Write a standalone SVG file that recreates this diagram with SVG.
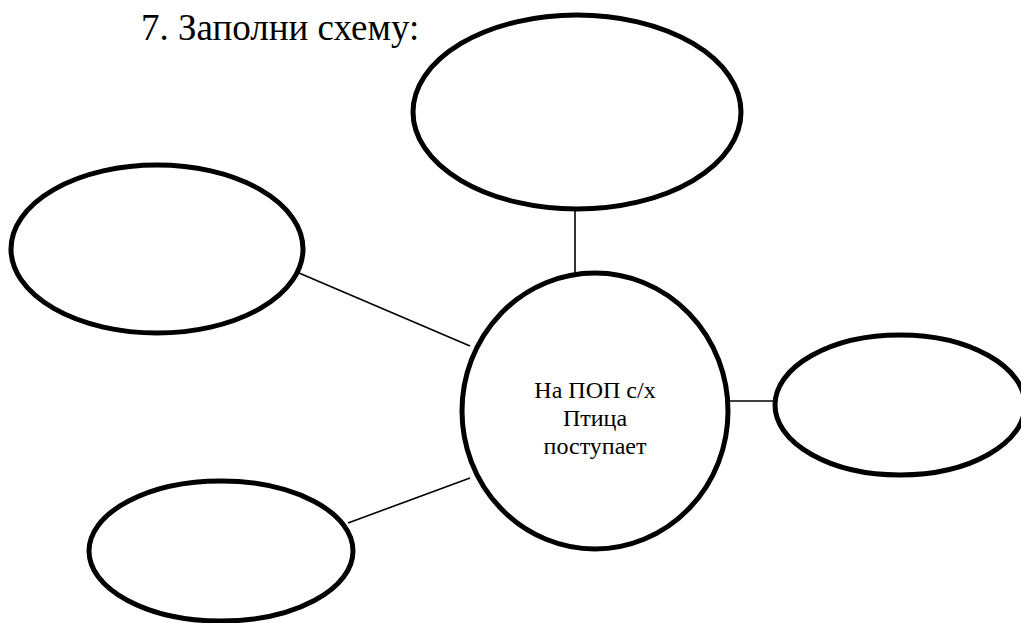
<svg xmlns="http://www.w3.org/2000/svg" width="1021" height="623" viewBox="0 0 1021 623">
<style>
.node{fill:#fff;stroke:#000;stroke-width:5}
.conn line{stroke:#000;stroke-width:1.6}
.t{fill:#000;font-family:"Liberation Serif","Times New Roman",serif}
</style>
<rect width="1021" height="623" fill="#fff"/>
<text class="t" x="141" y="40" font-size="37">7. Заполни схему:</text>
<g id="connectors" class="conn">
<line x1="575" y1="209" x2="575" y2="273"/>
<line x1="299" y1="273" x2="470" y2="346"/>
<line x1="728" y1="401" x2="776" y2="401"/>
<line x1="348" y1="523" x2="470" y2="478"/>
</g>
<g id="top"><ellipse class="node" cx="577" cy="112" rx="164" ry="97"/></g>
<g id="left"><ellipse class="node" cx="157" cy="249" rx="146" ry="84"/></g>
<g id="right"><ellipse class="node" cx="900" cy="405" rx="125" ry="70"/></g>
<g id="bottom"><ellipse class="node" cx="221" cy="551" rx="132" ry="70"/></g>
<g id="center">
<ellipse class="node" cx="595" cy="411" rx="133" ry="138"/>
<text class="t" font-size="24" text-anchor="middle"><tspan x="595" y="398">На ПОП с/х</tspan><tspan x="595" y="426">Птица</tspan><tspan x="595" y="454">поступает</tspan></text>
</g>
</svg>
